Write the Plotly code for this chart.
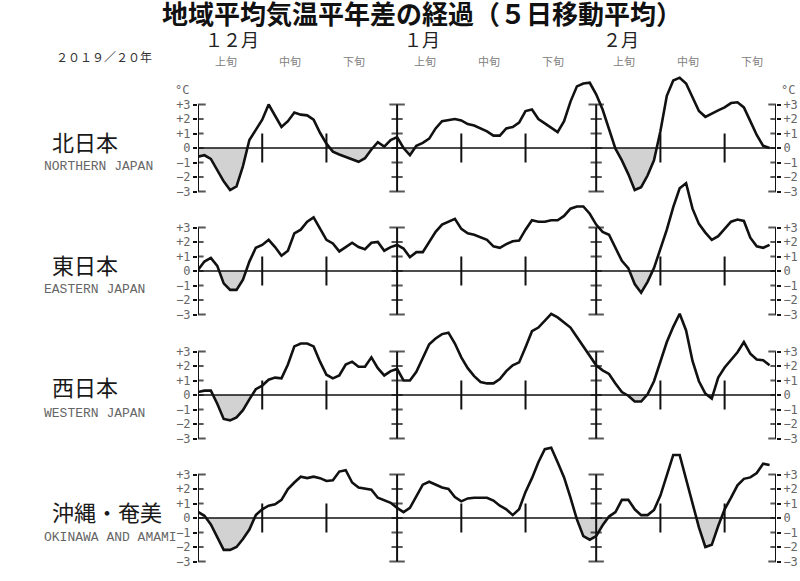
import plotly.graph_objects as go
import pandas as pd

# ---------------- data ----------------
dates = pd.date_range("2019-12-01", periods=90, freq="D")  # Dec 1 .. Feb 28

northern = [-0.6, -0.5, -0.75, -1.5, -2.3, -2.9, -2.65, -1.25, 0.55, 1.25,
            1.95, 3.0, 2.2, 1.45, 1.85, 2.45, 2.3, 2.25, 1.95, 1.05,
            0.3, -0.25, -0.45, -0.6, -0.75, -0.95, -0.7, -0.1, 0.4, 0.1,
            0.55, 0.75, 0.0, -0.5, 0.15, 0.35, 0.65, 1.35, 1.85, 1.95,
            2.0, 1.9, 1.65, 1.55, 1.35, 1.15, 0.85, 0.85, 1.35, 1.45,
            1.75, 2.55, 2.65, 2.0, 1.7, 1.4, 1.1, 1.85, 3.2, 4.25,
            4.45, 4.5, 3.7, 2.65, 1.25, -0.05, -0.85, -1.8, -2.9, -2.7,
            -1.9, -0.85, 1.15, 3.6, 4.65, 4.85, 4.45, 3.5, 2.55, 2.15,
            2.4, 2.6, 2.8, 3.1, 3.15, 2.8, 1.85, 0.9, 0.15, 0.0]

eastern = [0.07, 0.65, 0.9, 0.35, -0.85, -1.3, -1.3, -0.6, 0.65, 1.6,
           1.8, 2.15, 1.65, 1.05, 1.4, 2.6, 2.85, 3.4, 3.7, 2.9,
           2.15, 1.9, 1.35, 1.65, 1.95, 1.65, 1.5, 1.95, 2.0, 1.4,
           1.65, 1.8, 1.55, 0.95, 1.3, 1.3, 2.05, 2.7, 3.2, 3.4,
           3.6, 2.9, 2.6, 2.5, 2.3, 2.15, 1.7, 1.6, 1.85, 2.05,
           2.1, 2.85, 3.5, 3.4, 3.4, 3.5, 3.5, 3.8, 4.3, 4.45,
           4.45, 3.95, 3.2, 2.7, 2.5, 1.6, 0.7, 0.2, -0.9, -1.5,
           -0.75, 0.2, 1.45, 2.85, 4.4, 5.7, 6.05, 4.3, 3.25, 2.65,
           2.15, 2.4, 2.9, 3.4, 3.55, 3.45, 2.3, 1.7, 1.6, 1.8]

western = [0.2, 0.3, 0.3, -0.6, -1.65, -1.75, -1.55, -1.05, -0.3, 0.4,
           0.65, 1.05, 1.2, 1.15, 2.1, 3.35, 3.55, 3.55, 3.35, 2.3,
           1.4, 1.15, 1.35, 2.1, 2.3, 1.95, 1.95, 2.6, 1.85, 1.35,
           1.65, 1.8, 1.0, 1.0, 1.6, 2.6, 3.5, 3.9, 4.2, 4.3,
           3.55, 2.6, 1.85, 1.3, 0.9, 0.8, 0.8, 1.1, 1.65, 2.05,
           2.25, 3.3, 4.4, 4.65, 5.1, 5.6, 5.35, 5.0, 4.65, 4.0,
           3.35, 2.7, 2.05, 1.7, 1.45, 0.8, 0.2, -0.05, -0.45, -0.45,
           0.05, 0.95, 2.25, 3.65, 4.7, 5.6, 4.45, 2.35, 0.95, 0.1,
           -0.25, 1.2, 1.9, 2.4, 2.95, 3.65, 2.85, 2.45, 2.4, 2.05]

okinawa = [0.42, 0.15, -0.45, -1.35, -2.2, -2.2, -2.0, -1.45, -0.8, 0.2,
           0.6, 0.85, 0.95, 1.25, 2.0, 2.45, 2.85, 2.75, 2.85, 2.75,
           2.55, 2.6, 3.2, 3.3, 2.45, 2.1, 2.05, 1.95, 1.4, 1.25,
           1.05, 0.7, 0.4, 0.7, 1.5, 2.3, 2.5, 2.3, 2.1, 2.0,
           1.45, 1.15, 1.35, 1.4, 1.4, 1.4, 1.2, 0.85, 0.6, 0.2,
           0.6, 1.8, 2.75, 3.85, 4.75, 4.85, 3.85, 2.8, 1.4, -0.1,
           -1.25, -1.5, -1.25, -0.5, 0.1, 0.4, 1.25, 1.25, 0.6, 0.2,
           0.2, 0.55, 1.55, 3.0, 4.35, 4.35, 2.7, 0.95, -0.65, -2.0,
           -1.85, -0.55, 0.6, 1.4, 2.25, 2.7, 2.8, 3.1, 3.75, 3.65]

regions_jp = ["北日本", "東日本", "西日本", "沖縄・奄美"]
regions_en = ["NORTHERN JAPAN", "EASTERN JAPAN", "WESTERN JAPAN", "OKINAWA AND AMAMI"]
month_labels = ["１２月", "１月", "２月"]
month_starts = ["2019-12-01", "2020-01-01", "2020-02-01"]
dekad_labels = ["上旬", "中旬", "下旬"]
dekad_ticks = ["2019-12-11", "2019-12-21", "2020-01-11", "2020-01-21",
               "2020-02-11", "2020-02-21"]
frame_dates = ["2019-12-01", "2020-01-01", "2020-02-01", "2020-02-29"]
y_ticks = [-3, -2, -1, 0, 1, 2, 3]
y_ticktext = ["−3", "−2", "−1", "0", "+1", "+2", "+3"]
title_text = "地域平均気温平年差の経過（５日移動平均）"
season_text = "２０１９／２０年"
unit_text = "°C"

series = [northern, eastern, western, okinawa]

# ---------------- geometry (page pixels) ----------------
W, H = 800, 581
L_PAGE, R_PAGE = 198, 776
L = L_PAGE
R = W - R_PAGE
PW = W - L - R
ZERO_PX = [148, 271, 395, 518]
PX_PER_DEG = 14.5
Y_LO, Y_HI = -3.6, 6.6


def pxx(px):
    return (px - L) / PW


def pxy(py):
    return 1 - py / H


def neg_part(xs, ys):
    ox, oy = [], []
    for k in range(len(ys)):
        if k > 0 and (ys[k - 1] < 0) != (ys[k] < 0) and ys[k - 1] != ys[k]:
            f = ys[k - 1] / (ys[k - 1] - ys[k])
            ox.append(xs[k - 1] + (xs[k] - xs[k - 1]) * f)
            oy.append(0.0)
        ox.append(xs[k])
        oy.append(min(ys[k], 0.0))
    return ox, oy


frame_ts = [pd.Timestamp(d) for d in frame_dates]
dekad_ts = [pd.Timestamp(d) for d in dekad_ticks]
xs = list(dates)

fig = go.Figure()
BLACK = "#111111"

for i, vals in enumerate(series):
    yl = "y" if i == 0 else f"y{i + 1}"
    yr = f"y{i + 5}"

    nx, ny = neg_part(xs, vals)
    fig.add_trace(go.Scatter(x=nx, y=ny, yaxis=yl, mode="lines",
                             line=dict(width=0, color="rgba(0,0,0,0)"),
                             fill="tozeroy", fillcolor="#d2d2d2",
                             hoverinfo="skip", showlegend=False))
    # zero line
    fig.add_trace(go.Scatter(x=[frame_ts[0], frame_ts[-1]], y=[0, 0], yaxis=yl,
                             mode="lines", line=dict(color=BLACK, width=1.6),
                             hoverinfo="skip", showlegend=False))
    # frame verticals (month boundaries)
    vx, vy = [], []
    for d in frame_ts:
        vx += [d, d, None]
        vy += [y_ticks[0], y_ticks[-1], None]
    fig.add_trace(go.Scatter(x=vx, y=vy, yaxis=yl, mode="lines",
                             line=dict(color=BLACK, width=2),
                             hoverinfo="skip", showlegend=False))
    # tick crosses on frame verticals
    mx = [d for d in frame_ts for t in y_ticks]
    my = [t for d in frame_ts for t in y_ticks]
    ms = [11 if abs(t) == 3 else 8 for d in frame_ts for t in y_ticks]
    fig.add_trace(go.Scatter(x=mx, y=my, yaxis=yr, mode="markers",
                             marker=dict(symbol="line-ew", size=ms,
                                         line=dict(color=BLACK, width=2)),
                             hoverinfo="skip", showlegend=False))
    # dekad tick marks
    dx, dy = [], []
    for d in dekad_ts:
        dx += [d, d, None]
        dy += [-1, 1, None]
    fig.add_trace(go.Scatter(x=dx, y=dy, yaxis=yl, mode="lines",
                             line=dict(color=BLACK, width=2),
                             hoverinfo="skip", showlegend=False))
    # data line
    fig.add_trace(go.Scatter(x=xs, y=vals, yaxis=yl, mode="lines",
                             line=dict(color=BLACK, width=2.6),
                             name=regions_jp[i], showlegend=False))

layout = dict(
    width=W, height=H,
    margin=dict(l=L, r=R, t=0, b=0, autoexpand=False),
    paper_bgcolor="white", plot_bgcolor="rgba(0,0,0,0)",
    showlegend=False,
    xaxis=dict(range=[frame_ts[0], frame_ts[-1]], domain=[0, 1],
               visible=False, fixedrange=True),
)

tickfont = dict(family="DejaVu Sans Mono", size=12, color="#666666")
for i in range(4):
    z = ZERO_PX[i]
    dom = [pxy(z - Y_LO * PX_PER_DEG), pxy(z - Y_HI * PX_PER_DEG)]
    common = dict(domain=dom, range=[Y_LO, Y_HI], tickmode="array",
                  tickvals=y_ticks, ticktext=y_ticktext, ticks="outside",
                  ticklen=4, tickwidth=2, tickcolor=BLACK, tickfont=tickfont,
                  showgrid=False, zeroline=False, showline=False,
                  fixedrange=True, anchor="x")
    lname = "yaxis" if i == 0 else f"yaxis{i + 1}"
    layout[lname] = dict(common, side="left")
    rname = f"yaxis{i + 5}"
    layout[rname] = dict(common, side="right",
                         overlaying=("y" if i == 0 else f"y{i + 1}"))

ann = []
cjk = "Noto Sans CJK JP"
# month labels
for lab, ms_ in zip(month_labels, month_starts):
    ann.append(dict(text=lab, xref="x", yref="paper",
                    x=pd.Timestamp(ms_) + pd.Timedelta(days=0.7), y=pxy(39),
                    xanchor="left", yanchor="middle", showarrow=False,
                    font=dict(family=cjk, size=18, color="#222222")))
    for j, dl in enumerate(dekad_labels):
        ann.append(dict(text=dl, xref="x", yref="paper",
                        x=pd.Timestamp(ms_) + pd.Timedelta(days=4.3 + 10 * j),
                        y=pxy(61), xanchor="center", yanchor="middle",
                        showarrow=False,
                        font=dict(family=cjk, size=11, color="#808080")))
ann.append(dict(text=season_text, xref="paper", yref="paper", x=pxx(104),
                y=pxy(57), xanchor="center", yanchor="middle", showarrow=False,
                font=dict(family=cjk, size=12, color="#333333")))

JP_Y = [141, 264, 386, 511]
EN_Y = [166, 289, 413, 537]
for i in range(4):
    ann.append(dict(text=regions_jp[i], xref="paper", yref="paper", x=pxx(50),
                    y=pxy(JP_Y[i]), xanchor="left", yanchor="middle",
                    showarrow=False,
                    font=dict(family=cjk, size=22, color="#1a1a1a")))
    ann.append(dict(text=regions_en[i], xref="paper", yref="paper", x=pxx(42),
                    y=pxy(EN_Y[i]), xanchor="left", yanchor="middle",
                    showarrow=False,
                    font=dict(family="Liberation Mono", size=13,
                              color="#666666")))
# unit labels
ann.append(dict(text=unit_text, xref="paper", yref="paper", x=pxx(182),
                y=pxy(90), xanchor="center", yanchor="middle", showarrow=False,
                font=tickfont))
ann.append(dict(text=unit_text, xref="paper", yref="paper", x=pxx(788),
                y=pxy(90), xanchor="center", yanchor="middle", showarrow=False,
                font=tickfont))

layout["annotations"] = ann
layout["title"] = dict(text=title_text, xref="container", yref="container",
                       x=422 / W, y=1 - 15 / H,
                       xanchor="center", yanchor="middle",
                       font=dict(family=cjk, size=26, color="#111111",
                                 weight="bold"))
fig.update_layout(**layout)
fig.write_html("out.html",
               config={"displayModeBar": False, "staticPlot": True},
               post_script="document.body.style.margin='0px';")
